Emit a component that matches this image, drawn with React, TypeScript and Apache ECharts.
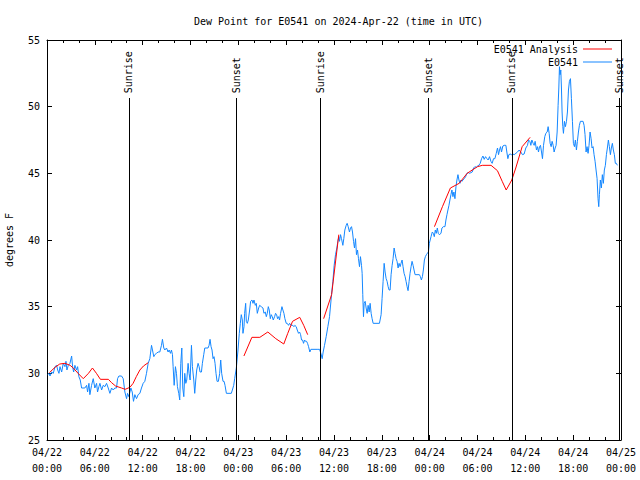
import React, { useEffect, useRef } from 'react';
import * as echarts from 'echarts';

const TITLE = 'Dew Point for E0541 on 2024-Apr-22 (time in UTC)';
const FONT = 'DejaVu Sans Mono';

// hours since 2024-04-22 00:00 UTC
const stationHours = [
  0.08, 0.25, 0.38, 0.58, 0.79, 1.0, 1.21, 1.34, 1.5, 1.63, 1.84, 2.04, 2.25, 2.38, 2.5, 2.67, 2.88, 3.09, 3.21, 3.34,
  3.5, 3.71, 3.84, 4.0, 4.17, 4.34, 4.75, 4.97, 5.09, 5.26, 5.38, 5.59, 5.8, 6.0, 6.22, 6.34, 6.51, 6.64, 6.85, 7.05,
  7.26, 7.47, 7.68, 7.89, 8.1, 8.31, 8.51, 8.72, 8.85, 9.02, 9.35, 9.56, 9.77, 9.98, 10.1, 10.27, 10.52, 10.69, 10.85, 11.02,
  11.23, 11.43, 11.65, 11.85, 12.06, 12.27,
  12.48, 12.69, 12.9, 13.11, 13.23, 13.4, 13.52, 13.73, 13.94, 14.15, 14.36, 14.48, 14.65, 14.78, 14.99, 15.19, 15.32, 15.49, 15.61, 15.74,
  15.82, 15.95, 16.11, 16.24, 16.36, 16.53, 16.65, 16.78, 16.91, 17.03, 17.16, 17.28, 17.41, 17.53, 17.7, 17.82, 17.95, 18.12, 18.24, 18.41,
  18.53, 18.66, 18.78, 18.95, 19.08, 19.2, 19.37, 19.49, 19.66, 19.79, 20.2, 20.33, 20.45, 20.58, 20.7, 20.83, 20.95, 21.08, 21.2, 21.33,
  21.5, 21.66, 21.79, 21.91, 22.08, 22.21, 22.33, 22.5, 23.12, 23.25, 23.42, 23.54,
  23.75, 23.96, 24.12, 24.25, 24.37, 24.5, 24.58, 24.71, 24.79, 24.92, 25.0, 25.13, 25.25, 25.42, 25.54, 25.71, 25.84, 25.96, 26.13, 26.25,
  26.38, 26.55, 26.67, 26.88, 27.09, 27.21, 27.38, 27.51, 27.63, 27.76, 27.88, 28.01, 28.13, 28.26, 28.38, 28.55, 28.67, 28.8, 28.92, 29.05,
  29.17, 29.3, 29.47, 29.59, 29.72, 29.84, 30.01, 30.13, 30.3, 30.43, 30.64, 30.84, 30.97, 31.09, 31.26, 31.39, 31.55, 31.68, 31.81, 31.93,
  32.06, 32.18, 32.31, 32.43, 32.56, 32.68, 32.81, 32.97, 33.1, 33.98, 34.19, 34.35, 34.52, 34.64, 34.81, 35.02, 35.23, 35.44,
  35.69, 35.86, 36.02, 36.19, 36.36, 36.48, 36.61, 36.69, 36.82, 36.94, 37.11, 37.23, 37.36, 37.53, 37.65, 37.78, 37.94, 38.07, 38.2, 38.32,
  38.45, 38.57, 38.7, 38.82, 38.95, 39.07, 39.2, 39.32, 39.45, 39.53, 39.61, 39.7, 39.78, 39.91, 40.03, 40.16, 40.28, 40.41, 40.53, 40.66,
  40.78, 40.91, 41.7, 41.91, 42.03, 42.16, 42.29, 42.41, 42.54, 42.66, 42.79, 42.91, 43.04, 43.16, 43.29, 43.41, 43.54, 43.66, 43.79, 43.91,
  44.04, 44.16, 44.29, 44.41, 44.54, 44.66, 44.79, 44.92, 45.04, 45.17, 45.29, 45.42, 45.54, 45.67, 45.79, 45.92, 46.04, 46.17, 46.71, 46.84,
  46.96, 47.09, 47.21, 47.34, 47.46, 47.59, 47.71, 47.84,
  47.96, 48.17, 48.33, 48.46, 48.58, 48.71, 48.83, 48.96, 49.08, 49.21, 49.42, 49.54, 49.71, 49.92, 50.04, 50.17, 50.29, 50.42, 50.54, 50.67,
  50.79, 50.92, 51.04, 51.17, 51.3, 51.42, 51.55, 51.67, 51.8, 51.92, 52.05, 52.17, 52.34, 52.51, 52.67, 52.84, 53.01, 53.17, 53.34, 53.51,
  53.67, 53.84, 54.01, 54.17, 54.34, 54.51, 54.68, 54.84, 55.01, 55.18, 55.34, 55.51, 55.68, 55.84, 56.01, 56.18, 56.35, 56.51, 56.64, 56.76,
  56.89, 57.01, 57.18, 57.35, 57.56, 57.68, 57.81, 57.93, 58.1, 58.27, 58.43, 58.6, 58.81, 59.02, 59.22, 59.43, 59.64, 59.85,
  60.06, 60.27, 60.4, 60.57, 60.69, 60.82, 60.98, 61.11, 61.23, 61.4, 61.53, 61.65, 61.78, 61.9, 62.03, 62.15, 62.28, 62.44, 62.57, 62.74,
  62.86, 62.99, 63.11, 63.24, 63.36, 63.49, 63.61, 63.74, 63.86, 63.99, 64.11, 64.2, 64.28, 64.36, 64.45, 64.53, 64.61, 64.7, 64.78, 64.91,
  65.03, 65.16, 65.28, 65.41, 65.53, 65.66, 65.78, 65.91, 66.03, 66.16, 66.28, 66.41, 66.53, 66.66, 66.78, 66.91, 67.24, 67.37, 67.49, 67.62,
  67.74, 67.87, 67.99, 68.12, 68.25, 68.37, 68.5, 68.62, 68.75, 68.87, 69.0, 69.12, 69.21, 69.29, 69.41, 69.54, 69.66, 69.79, 69.91, 70.04,
  70.17, 70.29, 70.42, 70.54, 70.67, 70.79, 70.92, 71.04, 71.17, 71.29, 71.42, 71.54,
];

const stationValues = [
  29.9, 30.0, 29.8, 30.1, 30.0, 30.5, 30.6, 30.25, 30.0, 30.5, 30.1, 30.75, 30.5, 30.9, 30.25, 30.6, 30.75, 31.3, 30.5, 30.1,
  30.6, 30.25, 30.5, 29.75, 29.5, 28.9, 28.9, 29.1, 28.6, 29.25, 28.4, 29.1, 29.6, 28.9, 29.25, 28.6, 29.0, 29.25, 28.75, 29.1,
  29.0, 29.25, 28.9, 28.5, 28.9, 28.75, 28.9, 28.9, 29.6, 29.8, 29.8, 29.6, 28.6, 28.1, 28.5, 28.25, 28.9, 28.6, 27.9, 28.4,
  28.1, 28.4, 28.5, 28.9, 29.25, 29.4,
  30.0, 30.75, 31.1, 32.1, 31.75, 31.25, 31.4, 31.5, 31.6, 31.6, 32.1, 32.55, 31.9, 31.75, 31.9, 31.6, 31.75, 31.5, 31.75, 31.4,
  30.5, 29.1, 30.5, 30.0, 29.0, 28.5, 28.0, 30.75, 31.9, 28.9, 28.25, 30.0, 29.25, 29.5, 30.75, 30.0, 29.5, 32.1, 30.5, 29.5,
  28.5, 29.5, 30.25, 30.75, 30.5, 30.1, 30.1, 30.75, 31.4, 31.9, 31.9, 32.1, 32.55, 32.0, 31.75, 31.1, 31.25, 30.75, 30.0, 29.4,
  29.4, 30.0, 31.0, 30.0, 29.4, 29.4, 29.1, 28.5, 28.5, 28.75, 29.1, 29.6,
  30.4, 31.75, 33.0, 33.75, 34.4, 34.0, 33.0, 33.5, 34.5, 35.25, 33.9, 33.75, 34.0, 34.75, 35.4, 35.5, 35.25, 35.5, 35.1, 35.25,
  34.5, 34.9, 35.1, 35.0, 34.9, 34.5, 34.6, 34.25, 34.5, 35.0, 34.75, 34.1, 34.4, 34.25, 34.0, 34.25, 34.5, 34.4, 34.1, 34.25,
  34.0, 34.5, 35.0, 34.75, 34.5, 34.1, 33.75, 33.75, 33.6, 33.75, 33.6, 33.6, 33.5, 33.6, 33.5, 33.25, 33.0, 33.1, 32.9, 32.5,
  32.5, 32.25, 32.5, 32.4, 32.4, 32.25, 32.0, 31.6, 31.8, 31.8, 31.8, 31.5, 31.1, 31.6, 32.1, 32.75, 33.5, 34.25,
  35.9, 36.9, 38.1, 38.9, 39.4, 39.9, 40.25, 39.9, 40.4, 40.1, 39.6, 40.1, 40.75, 41.1, 41.25, 41.0, 40.6, 40.9, 41.0, 40.6,
  39.9, 39.4, 40.1, 38.9, 39.25, 38.6, 38.0, 38.75, 38.1, 37.5, 35.9, 34.25, 35.25, 35.4, 34.9, 34.5, 35.1, 34.6, 35.25, 34.5,
  34.1, 33.75, 33.75, 34.4, 35.6, 36.9, 38.25, 37.6, 37.1, 36.9, 36.5, 36.25, 36.25, 37.4, 38.1, 38.6, 39.4, 39.0, 38.6, 38.4,
  37.9, 38.25, 38.0, 38.25, 38.5, 38.0, 37.5, 37.25, 36.9, 36.5, 36.2, 36.9, 37.5, 38.0, 38.4, 38.1, 37.75, 37.4, 37.4, 37.25,
  37.0, 37.25, 37.75, 38.5, 38.75, 38.9, 39.0, 39.1,
  39.75, 40.25, 40.6, 40.5, 40.25, 40.75, 40.5, 40.9, 40.5, 40.4, 40.5, 40.9, 41.0, 41.0, 41.5, 41.9, 42.25, 42.6, 43.0, 43.4,
  43.75, 43.25, 43.6, 43.1, 44.0, 44.5, 44.9, 44.5, 44.25, 44.5, 44.4, 44.5, 44.6, 44.75, 45.0, 45.05, 45.0, 45.05, 45.1, 45.4,
  45.5, 45.45, 45.55, 45.6, 45.75, 46.1, 46.3, 46.05, 46.25, 46.1, 46.0, 46.25, 45.9, 45.75, 46.1, 46.1, 46.5, 46.9, 46.4, 46.75,
  47.0, 46.6, 47.05, 47.1, 47.1, 46.6, 46.1, 46.4, 46.45, 46.4, 46.45, 46.4, 46.5, 46.6, 46.75, 46.6, 46.4, 46.45,
  46.9, 47.1, 47.5, 47.4, 47.1, 47.5, 47.25, 47.1, 47.4, 46.75, 47.0, 46.6, 47.0, 47.1, 46.6, 46.1, 47.1, 47.75, 48.0, 48.1,
  48.5, 48.0, 47.25, 47.0, 47.4, 47.1, 46.6, 46.9, 47.1, 48.1, 50.1, 51.4, 53.0, 52.4, 52.75, 51.4, 49.6, 48.5, 48.0, 48.9,
  48.5, 48.9, 49.6, 51.25, 51.9, 52.1, 50.6, 48.9, 47.25, 47.0, 47.5, 46.75, 47.4, 48.1, 48.6, 48.9, 48.9, 48.6, 47.9, 46.6,
  47.0, 46.5, 47.1, 48.1, 47.6, 46.9, 47.0, 46.4, 45.9, 45.25, 44.6, 43.1, 42.5, 43.4, 44.5, 43.9, 44.9, 44.25, 45.25, 45.6,
  46.4, 46.9, 47.5, 47.0, 46.4, 46.9, 47.25, 46.75, 46.4, 45.75, 45.75, 45.6,
];

// analysis series, null values mark gaps between runs
const analysisHours = [
  0.3, 1.0, 1.6, 2.25, 2.9, 3.3, 3.9, 4.55, 5.2, 5.7, 6.2, 6.7, 7.7, 8.1, 8.6, 9.35, 9.8, 10.4, 10.8, 11.2, 11.65, 12.1, 12.7,
  18.0,
  24.7, 25.7, 26.7, 27.7, 28.7, 29.7, 30.2, 30.8, 31.7, 32.2, 32.7,
  33.5,
  34.7, 35.7, 36.6,
  42.0,
  48.6, 49.6, 50.6, 51.7, 52.7, 54.0, 54.6, 55.7, 56.5, 57.1, 57.6, 58.3, 58.8, 59.6, 60.6,
];
const analysisValues = [
  30.05, 30.45, 30.7, 30.75, 30.6, 30.4, 30.0, 29.6, 30.0, 30.4, 30.0, 29.55, 29.55, 29.3, 29.05, 28.9, 28.8, 28.95, 29.25, 29.75, 30.25, 30.55, 30.8,
  null,
  31.3, 32.7, 32.7, 33.1, 32.6, 32.2, 33.0, 33.9, 34.2, 33.6, 32.9,
  null,
  34.1, 35.9, 40.4,
  null,
  41.0, 42.5, 43.9, 44.25, 45.0, 45.5, 45.6, 45.6, 45.2, 44.4, 43.75, 44.5, 45.4, 47.0, 47.7,
];

const sunEventHours = [10.28, 23.77, 34.27, 47.85, 58.3, 71.8];
const sunEventLabels = ['Sunrise', 'Sunset', 'Sunrise', 'Sunset', 'Sunrise', 'Sunset'];
const dayLabels = ['04/22', '04/23', '04/24', '04/25'];

const X_MIN = 0;
const X_MAX = 72;
const X_STEP = 6;
const Y_MIN = 25;
const Y_MAX = 55;
const Y_STEP = 5;
const SUN_LINE_TOP = 50.65;
const SUN_LABEL_BASE = 51.0;

export default function App() {
  const ref = useRef<HTMLDivElement>(null);
  useEffect(() => {
    if (!ref.current) return;
    const chart = echarts.init(ref.current, null, { renderer: 'svg' });
    const text = { fontFamily: FONT, fontSize: 10, color: '#000' };
    const tickStyle = { color: '#000', width: 1 };
    const xLabel = (v: number) => {
      const d = Math.floor(v / 24 + 1e-9);
      const hh = Math.round(v - d * 24);
      return `${dayLabels[d]}\n${String(hh).padStart(2, '0')}:00`;
    };
    const xBase = {
      type: 'value',
      min: X_MIN,
      max: X_MAX,
      interval: X_STEP,
      axisLine: { show: true, onZero: false, lineStyle: tickStyle },
      axisTick: { show: true, inside: true, length: 5, lineStyle: tickStyle },
      minorTick: { show: true, splitNumber: 3, length: 3, lineStyle: tickStyle },
      splitLine: { show: false },
    };
    const yBase = {
      type: 'value',
      min: Y_MIN,
      max: Y_MAX,
      interval: Y_STEP,
      axisLine: { show: true, onZero: false, lineStyle: tickStyle },
      axisTick: { show: true, inside: true, length: 5, lineStyle: tickStyle },
      splitLine: { show: false },
    };
    chart.setOption({
      animation: false,
      backgroundColor: '#fff',
      title: {
        text: TITLE,
        left: 189,
        top: 11,
        textStyle: { ...text, fontWeight: 'normal' },
      },
      legend: {
        data: ['E0541 Analysis', 'E0541'],
        orient: 'vertical',
        right: 28,
        top: 43,
        align: 'right',
        icon: 'rect',
        itemWidth: 29,
        itemHeight: 1,
        itemGap: 1,
        padding: 0,
        textStyle: { ...text, lineHeight: 12 },
      },
      grid: { left: 47, right: 19, top: 40, bottom: 40, containLabel: false, outerBoundsMode: 'none' },
      xAxis: [
        {
          ...xBase,
          position: 'bottom',
          axisLabel: { ...text, margin: 4, lineHeight: 16, formatter: xLabel },
        },
        { ...xBase, position: 'top', axisLabel: { show: false } },
      ],
      yAxis: [
        {
          ...yBase,
          position: 'left',
          name: 'degrees F',
          nameLocation: 'middle',
          nameGap: 33,
          nameTextStyle: text,
          axisLabel: { ...text, margin: 7 },
        },
        { ...yBase, position: 'right', axisLabel: { show: false } },
      ],
      series: [
        {
          name: 'E0541',
          type: 'line',
          symbol: 'none',
          z: 2,
          data: stationHours.map((h, i) => [h, stationValues[i]]),
          lineStyle: { color: '#1487ff', width: 1 },
          itemStyle: { color: '#1487ff' },
          markLine: {
            silent: true,
            symbol: ['none', 'none'],
            label: { show: false },
            lineStyle: { color: '#000', width: 1, type: 'solid' },
            data: sunEventHours.map((h) => [{ coord: [h, Y_MIN] }, { coord: [h, SUN_LINE_TOP] }]),
          },
        },
        {
          name: 'E0541 Analysis',
          type: 'line',
          symbol: 'none',
          z: 3,
          connectNulls: false,
          data: analysisHours.map((h, i) => [h, analysisValues[i] === null ? '-' : analysisValues[i]]),
          lineStyle: { color: '#ff0000', width: 1 },
          itemStyle: { color: '#ff0000' },
        },
      ],
    });
    const graphics = sunEventHours.map((h, i) => {
      const p = chart.convertToPixel({ xAxisIndex: 0, yAxisIndex: 0 }, [h, SUN_LABEL_BASE]) as number[];
      return {
        type: 'text',
        x: p[0],
        y: p[1],
        rotation: Math.PI / 2,
        style: {
          text: sunEventLabels[i],
          fontFamily: FONT,
          fontSize: 10,
          fill: '#000',
          align: 'left',
          verticalAlign: 'middle',
        },
      };
    });
    chart.setOption({ graphic: graphics });
    return () => chart.dispose();
  }, []);
  return (
    <div
      ref={ref}
      style={{ position: 'fixed', left: 0, top: 0, width: 640, height: 480, background: '#fff' }}
    />
  );
}
